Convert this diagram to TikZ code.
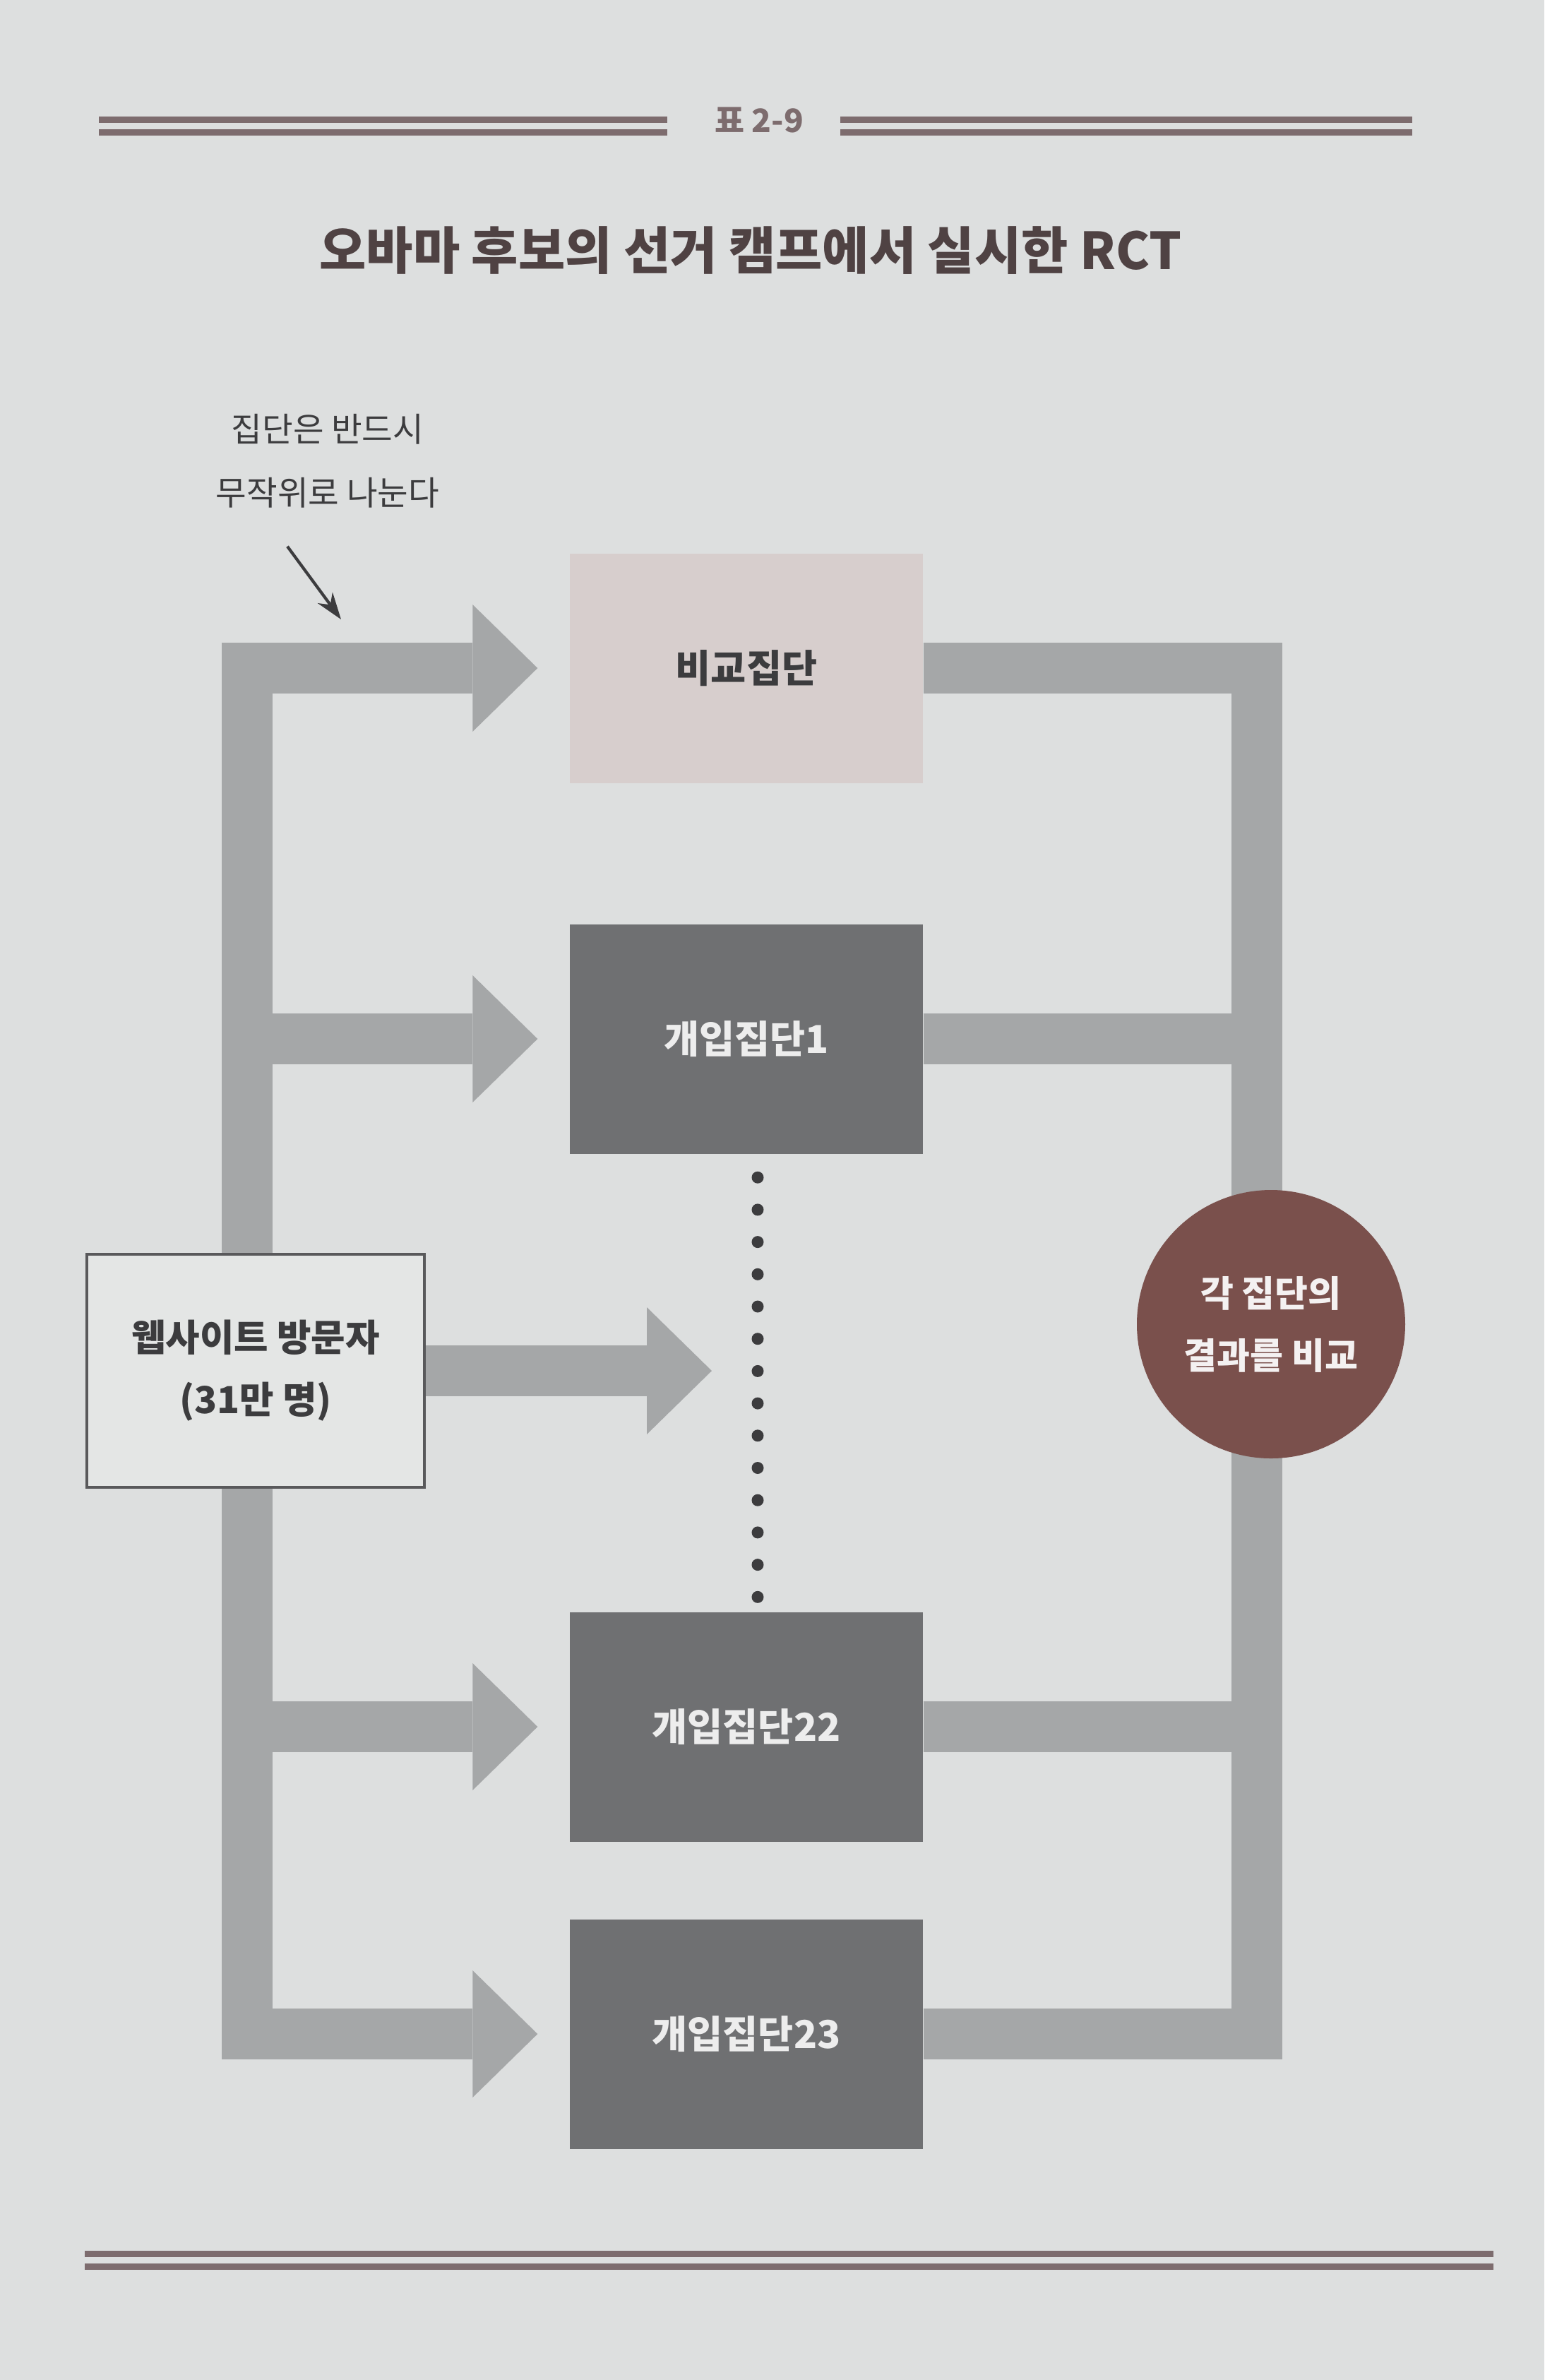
\documentclass[tikz,border=0pt]{standalone}
\usepackage{fontspec}
\setmainfont{Noto Sans CJK KR}
\usetikzlibrary{arrows.meta,positioning,calc}
\pgfdeclarelayer{paper}
\pgfdeclarelayer{bars}
\pgfsetlayers{paper,bars,main}
\definecolor{paperc}{HTML}{DDDFDF}
\definecolor{barc}{HTML}{A5A7A8}
\definecolor{darkc}{HTML}{6F7072}
\definecolor{ctrlc}{HTML}{D7CECD}
\definecolor{circc}{HTML}{7A504C}
\definecolor{rulec}{HTML}{7D6C6E}
\definecolor{titlec}{HTML}{4F4243}
\definecolor{inkc}{HTML}{3C3C3E}
\definecolor{visc}{HTML}{E4E6E5}
\tikzset{
  grp/.style={minimum width=5cm, minimum height=3.25cm, inner sep=0pt, font=\fontsize{15.5}{18}\selectfont\bfseries},
  ctrlbox/.style={grp, fill=ctrlc, text=inkc},
  trtbox/.style={grp, fill=darkc, text=white!93!black},
  visbox/.style={draw=inkc!85, line width=1pt, fill=visc, minimum width=4.78cm, minimum height=3.3cm, align=center, text=inkc, font=\fontsize{15}{25}\selectfont\bfseries},
  bar/.style={draw=barc, line width=0.72cm},
  fatarrow/.style={bar, -{Triangle[length=0.92cm,width=1.8cm,line width=0pt]}, shorten >=0.45cm},
  rule/.style={draw=rulec, double=paperc, double distance=0.09cm, line width=0.09cm},
  pointer/.style={draw=inkc, line width=1.2pt, -{Stealth[length=0.38cm,width=0.26cm]}}
}
\begin{document}
\begin{tikzpicture}[line join=miter]
\begin{pgfonlayer}{paper}
\fill[paperc] (0,0) rectangle (21.87,-33.70);
\end{pgfonlayer}
\useasboundingbox (0,0) rectangle (21.87,-33.70);
\coordinate (ltop) at (3.5,-9.10);
\coordinate (lbot) at (3.5,-29.16);
\coordinate (rtop) at (17.8,-9.10);
\coordinate (rbot) at (17.8,-29.16);
\coordinate (midtip) at (10.08,-19.41);
\coordinate (pick) at (4.83,-8.77);
% heading
\node[font=\fontsize{13}{15}\selectfont\bfseries, text=rulec] (fig) at (10.75,-1.70) {표 2-9};
\draw[rule] (1.40,-1.78) -- (9.45,-1.78);
\draw[rule] (11.90,-1.78) -- (20.00,-1.78);
\node[font=\fontsize{20.5}{24}\selectfont\bfseries, text=titlec] (title) at (10.63,-3.55) {오바마 후보의 선거 캠프에서 실시한 RCT};
\node[font=\fontsize{13.5}{25.5}\selectfont, text=inkc, align=center] (note) at (4.64,-6.53) {집단은 반드시\\무작위로 나눈다};
\draw[pointer] ($(note.south)+(-0.57,-0.42)$) -- (pick);
% groups
\node[ctrlbox] (ctrl) at (10.57,-9.46) {비교집단};
\node[trtbox] (trt1) at (10.57,-14.71) {개입집단1};
\node[trtbox] (trt22) at (10.57,-24.45) {개입집단22};
\node[trtbox] (trt23) at (10.57,-28.80) {개입집단23};
\node[visbox] (vis) at (3.62,-19.41) {웹사이트 방문자\\(31만 명)};
\node[circle, fill=circc, minimum size=3.8cm, inner sep=0pt, align=center, text=white!92!circc, font=\fontsize{14.5}{25}\selectfont\bfseries] (cmp) at (18.0,-18.75) {각 집단의\\결과를 비교};
\foreach \k in {0,...,13} \fill[inkc] ($(trt1.south)+(0.16,-0.33-0.457*\k)$) circle (0.085);
\begin{pgfonlayer}{bars}
\draw[bar] (ltop) -- (lbot);
\draw[bar] (rtop) -- (rbot);
\foreach \g in {ctrl,trt1,trt22,trt23}{
  \draw[fatarrow] (ltop |- \g) -- (\g);
  \draw[bar] (\g.east) -- (rtop |- \g);
}
\draw[fatarrow, shorten >=0pt] (vis.east) -- (midtip);
\end{pgfonlayer}
\draw[rule] (1.20,-32.00) -- (21.15,-32.00);
\end{tikzpicture}
\end{document}
